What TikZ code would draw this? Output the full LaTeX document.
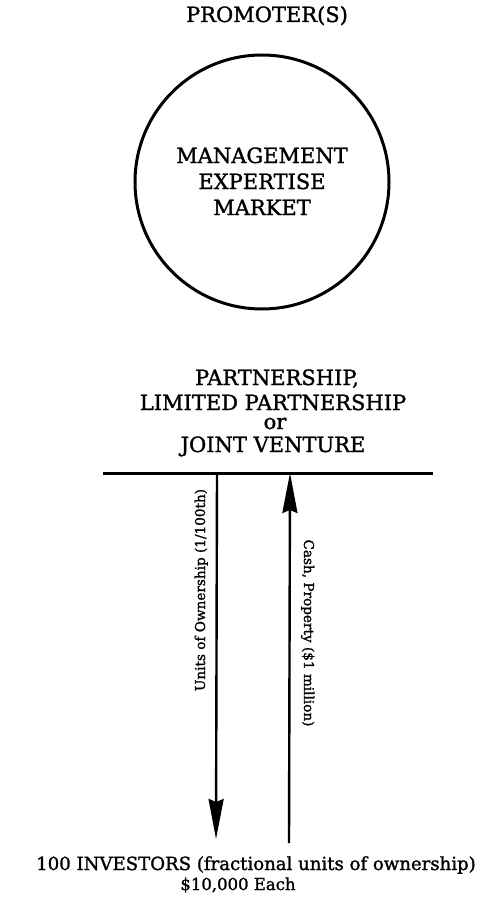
\documentclass[tikz,border=0pt]{standalone}
\usepackage{fontspec}
\setmainfont{DejaVu Serif}[FakeBold=1.4]
\usetikzlibrary{arrows.meta}
\begin{document}
\begin{tikzpicture}[x=1pt,y=-1pt,
  lbl/.style={inner sep=0pt,anchor=base,font=\fontsize{21}{24}\selectfont},
  side/.style={inner sep=0pt,anchor=base,font=\fontsize{13.6}{16}\selectfont},
  bot/.style={inner sep=0pt,anchor=base,font=\fontsize{18.1}{21}\selectfont},
  bot2/.style={inner sep=0pt,anchor=base,font=\fontsize{16.5}{20}\selectfont},
  ring/.style={draw,line width=3pt},
  bar/.style={line width=3pt},
  flow/.style={line width=2.4pt,-{Stealth[length=40pt,width=15pt,inset=3pt]}}]
\useasboundingbox (0,0) rectangle (479,915);
\node[lbl] (prom) at (267,22) {PROMOTER(S)};
\draw[ring] (262,182) circle (127);
\node[lbl] (m1) at (262,163) {MANAGEMENT};
\node[lbl] (m2) at (262,189) {EXPERTISE};
\node[lbl] (m3) at (262,215) {MARKET};
\node[lbl] (p1) at (277,385) {PARTNERSHIP,};
\node[lbl] (p2) at (273,410) {LIMITED PARTNERSHIP};
\node[lbl] (p3) at (275,429) {or};
\node[lbl] (p4) at (273,452) {JOINT VENTURE};
\coordinate (L) at (103,473);
\coordinate (R) at (433,473);
\draw[bar] (L) -- (R);
\coordinate (dtop) at (217,473);
\coordinate (dbot) at (216,839);
\coordinate (ubot) at (289,843);
\coordinate (utop) at (290,473);
\draw[flow] (dtop) -- (dbot);
\draw[flow] (ubot) -- (utop);
\node[side,rotate=90] (units) at (205,590) {Units of Ownership (1/100th)};
\node[side,rotate=-90] (cash) at (304,633) {Cash, Property (\$1 million)};
\node[bot] (inv) at (256,870) {100 INVESTORS (fractional units of ownership)};
\node[bot2] (each) at (238,890) {\$10,000 Each};
\end{tikzpicture}
\end{document}
